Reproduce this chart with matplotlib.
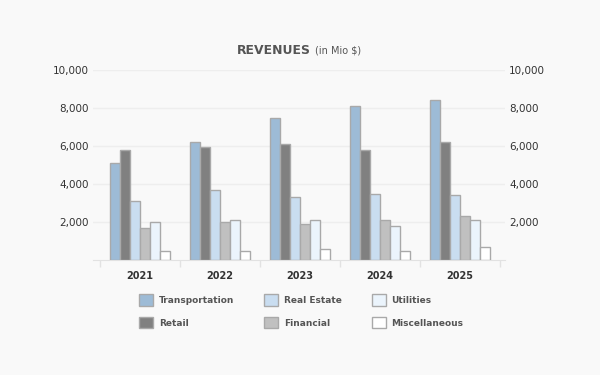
import numpy as np
import matplotlib.pyplot as plt
from matplotlib.patches import Patch

# data (in Mio $)
years = ["2021", "2022", "2023", "2024", "2025"]
series = ["Transportation", "Retail", "Real Estate", "Financial", "Utilities", "Miscellaneous"]
transportation = [5100, 6200, 7500, 8100, 8400]
retail = [5800, 5950, 6100, 5800, 6200]
real_estate = [3100, 3700, 3300, 3500, 3400]
financial = [1700, 2000, 1900, 2100, 2300]
utilities = [2000, 2100, 2100, 1800, 2100]
misc = [500, 500, 600, 500, 700]
y_ticks = [2000, 4000, 6000, 8000, 10000]

values = [transportation, retail, real_estate, financial, utilities, misc]
colors = ["#9dbbd6", "#808080", "#c9ddf0", "#c0c0c0", "#ebf4fc", "#ffffff"]
bg = "#f9f9f9"
txt = "#555555"

fig = plt.figure(figsize=(6, 3.75), dpi=100, facecolor=bg)
W, H = 600, 375
ax = fig.add_axes([93 / W, (H - 260) / H, (505 - 93) / W, 190 / H], facecolor=bg)

x = np.arange(len(years))
bw = 0.125
for i, (vals, c) in enumerate(zip(values, colors)):
    ax.bar(x - 0.375 + bw * (i + 0.5), vals, width=bw, color=c,
           edgecolor="#a9a9a9", linewidth=1, zorder=3)

ax.set_xlim(-0.5 - 7 / 80, 4.5 + 5 / 80)
ax.set_ylim(0, 10000)
ax.set_yticks(y_ticks)
ax.set_yticklabels([f"{v:,}" for v in y_ticks])
ax.tick_params(axis="y", length=0, labelsize=7.5, colors="#333333", pad=3,
               labelleft=True, labelright=True)
ax.grid(axis="y", color="#eeeeee", linewidth=1, zorder=0)

# category labels and boundary ticks
ax.set_xticks(np.arange(-0.5, len(years), 1.0))
ax.set_xticklabels([])
ax.set_xticks(x, minor=True)
ax.set_xticklabels(years, minor=True)
ax.tick_params(axis="x", which="major", length=5, color="#e2e2e2", width=1)
ax.tick_params(axis="x", which="minor", length=0, labelsize=7, pad=8)
for lab in ax.get_xticklabels(minor=True):
    lab.set_fontweight("bold")
    lab.set_color("#333333")

for s in ["top", "left", "right"]:
    ax.spines[s].set_visible(False)
ax.spines["bottom"].set_color("#e2e2e2")

fig.text(311 / W, 1 - 50 / H, "REVENUES", fontsize=8.9, fontweight="bold",
         color=txt, va="center", ha="right")
fig.text(315 / W, 1 - 50.5 / H, "(in Mio $)", fontsize=7, color=txt,
         va="center", ha="left")

handles = [Patch(facecolor=c, edgecolor="#a9a9a9", linewidth=1) for c in colors]
leg = fig.legend(handles, series, ncol=3, loc="upper left",
                 bbox_to_anchor=(139 / W, 1 - 294.5 / H), frameon=False,
                 borderpad=0, fontsize=6.5, handlelength=1.55, handleheight=1.55,
                 handletextpad=0.65, labelspacing=1.25, columnspacing=3.3,
                 borderaxespad=0)
for t in leg.get_texts():
    t.set_fontweight("bold")
    t.set_color(txt)

fig.savefig("out.png", dpi=100, facecolor=bg)
